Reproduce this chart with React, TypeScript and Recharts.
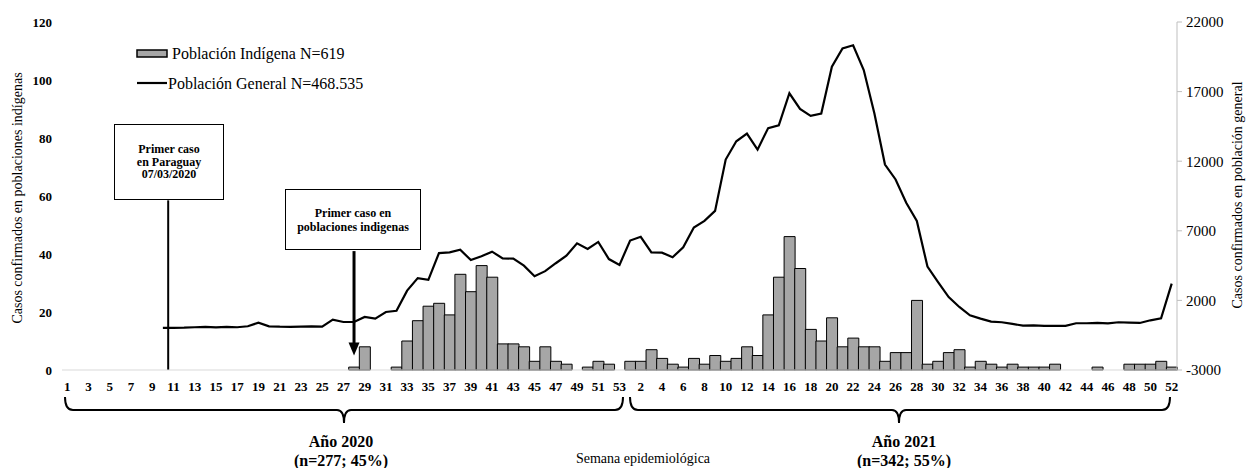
import { ComposedChart, Bar, Line, XAxis, YAxis, ReferenceLine } from "recharts";

const SERIF = '"Liberation Serif", "Times New Roman", serif';

// casos confirmados en poblaciones indígenas, por semana epidemiológica
const indigena2020 = [
  0, 0, 0, 0, 0, 0, 0, 0, 0, 0, 0, 0, 0, 0, 0, 0, 0, 0, 0, 0, 0, 0, 0, 0, 0, 0, 0,
  1, 8, 0, 0, 1, 10, 17, 22, 23, 19, 33, 27, 36, 32, 9, 9, 8, 3, 8, 3, 2, 0, 1, 3, 2, 0,
];
const indigena2021 = [
  3, 3, 7, 4, 2, 1, 4, 2, 5, 3, 4, 8, 5, 19, 32, 46, 35, 14, 10, 18, 8, 11, 8, 8, 3, 6,
  6, 24, 2, 3, 6, 7, 1, 3, 2, 1, 2, 1, 1, 1, 2, 0, 0, 0, 1, 0, 0, 2, 2, 2, 3, 1,
];

// casos confirmados en población general
const general2020 = [
  null, null, null, null, null, null, null, null, null,
  20, 30, 40, 70, 95, 60, 95, 70, 140, 400, 140, 110, 100, 110, 130, 110, 620, 450, 450,
  810, 690, 1170, 1250, 2700, 3600, 3480, 5400, 5450, 5640, 4900, 5170, 5500, 5020, 5000,
  4500, 3740, 4100, 4670, 5210, 6100, 5690, 6200, 4970, 4550,
];
const general2021 = [
  6300, 6570, 5450, 5430, 5100, 5810, 7240, 7710, 8430, 12120, 13430, 13980, 12830, 14380,
  14570, 16880, 15760, 15260, 15430, 18790, 20100, 20330, 18550, 15450, 11760, 10690, 9020,
  7710, 4430, 3310, 2240, 1530, 930, 690, 480, 430, 310, 190, 210, 170, 170, 170, 360, 360,
  380, 350, 430, 400, 380, 570, 710, 3200,
];

const leftTicks = [0, 20, 40, 60, 80, 100, 120];
const rightTicks = [-3000, 2000, 7000, 12000, 17000, 22000];

const data = [
  ...indigena2020.map((v, i) => ({ key: `2020-${i + 1}`, indigena: v, general: general2020[i] })),
  ...indigena2021.map((v, i) => ({ key: `2021-${i + 1}`, indigena: v, general: general2021[i] })),
];

const ArrowDown = (p: any) => {
  const { x1, y1, x2, y2 } = p;
  return (
    <g>
      <line x1={x1} y1={y1} x2={x2} y2={y2 - 10} stroke="#000" strokeWidth={3} />
      <polygon points={`${x2 - 5.5},${y2 - 13} ${x2 + 5.5},${y2 - 13} ${x2},${y2}`} fill="#000" />
    </g>
  );
};

const boxStyle: React.CSSProperties = {
  position: "absolute",
  background: "#fff",
  border: "1.5px solid #000",
  boxSizing: "border-box",
  display: "flex",
  alignItems: "center",
  justifyContent: "center",
  textAlign: "center",
  fontFamily: SERIF,
  fontWeight: 700,
  fontSize: 12,
  lineHeight: "12.5px",
};

export default function App() {
  return (
    <div style={{ position: "absolute", left: 0, top: 0, width: 1246, height: 468, background: "#fff" }}>
      <ComposedChart
        width={1246}
        height={468}
        data={data}
        barCategoryGap={0}
        margin={{ top: 22, right: 0, bottom: 68, left: 0 }}
      >
        <XAxis
          dataKey="key"
          interval={1}
          tickFormatter={(k: string) => k.split("-")[1]}
          axisLine={{ stroke: "#d9d9d9" }}
          tickLine={false}
          tickSize={6}
          tickMargin={6}
          height={30}
          tick={{ fontFamily: SERIF, fontSize: 13, fontWeight: 700, fill: "#000" }}
        />
        <YAxis
          yAxisId="left"
          domain={[0, 120]}
          ticks={leftTicks}
          width={62}
          axisLine={false}
          tickLine={false}
          tickMargin={4}
          tick={{ fontFamily: SERIF, fontSize: 13, fontWeight: 700, fill: "#000" }}
        />
        <YAxis
          yAxisId="right"
          orientation="right"
          domain={[-3000, 22000]}
          ticks={rightTicks}
          width={69}
          axisLine={{ stroke: "#bfbfbf" }}
          tickLine={{ stroke: "#bfbfbf" }}
          tickSize={5}
          tickMargin={4}
          tick={{ fontFamily: SERIF, fontSize: 15, fill: "#000" }}
        />
        <Bar
          yAxisId="left"
          dataKey="indigena"
          fill="#a6a6a6"
          stroke="#000"
          strokeWidth={1}
          isAnimationActive={false}
        />
        <Line
          yAxisId="right"
          dataKey="general"
          type="linear"
          stroke="#000"
          strokeWidth={2.2}
          dot={false}
          activeDot={false}
          connectNulls={false}
          isAnimationActive={false}
        />
        <ReferenceLine
          yAxisId="left"
          segment={[{ x: "2020-11", y: 58.5 }, { x: "2020-11", y: 0 }]}
          position="start"
          stroke="#000"
          strokeWidth={2}
        />
        <ReferenceLine
          yAxisId="left"
          segment={[{ x: "2020-28", y: 41 }, { x: "2020-28", y: 5 }]}
          stroke="#000"
          shape={ArrowDown}
        />
      </ComposedChart>

      <div style={{ ...boxStyle, left: 114, top: 124, width: 110, height: 76 }}>
        Primer caso
        <br />
        en Paraguay
        <br />
        07/03/2020
      </div>
      <div style={{ ...boxStyle, left: 285, top: 189, width: 136, height: 61, lineHeight: "14px" }}>
        Primer caso en
        <br />
        poblaciones indigenas
      </div>

      <svg
        width={1246}
        height={468}
        style={{ position: "absolute", left: 0, top: 0, pointerEvents: "none" }}
        fontFamily={SERIF}
      >
        {/* leyenda */}
        <rect x={137} y={50} width={30} height={7} fill="#a6a6a6" stroke="#000" strokeWidth={1.5} />
        <text x={172} y={58.5} fontSize={16}>Población Indígena N=619</text>
        <line x1={137} y1={83} x2={167} y2={83} stroke="#000" strokeWidth={2.2} />
        <text x={168} y={88.5} fontSize={16}>Población General N=468.535</text>

        {/* títulos de ejes */}
        <text
          transform="translate(22,198) rotate(-90)"
          textAnchor="middle"
          fontSize={14}
        >
          Casos confirmados en poblaciones indígenas
        </text>
        <text
          transform="translate(1242,195) rotate(-90)"
          textAnchor="middle"
          fontSize={14}
        >
          Casos confirmados en población general
        </text>
        <text x={643} y={463} textAnchor="middle" fontSize={14}>Semana epidemiológica</text>

        {/* llaves por año */}
        <path
          d="M65,397 Q65,410 73,410 L337,410 Q344,410 344,423 Q344,410 351,410 L615,410 Q623,410 623,397"
          fill="none"
          stroke="#000"
          strokeWidth={2}
        />
        <path
          d="M630,397 Q630,410 638,410 L892,410 Q899,410 899,423 Q899,410 906,410 L1162,410 Q1170,410 1170,397"
          fill="none"
          stroke="#000"
          strokeWidth={2}
        />
        <text x={341} y={446.5} textAnchor="middle" fontSize={16} fontWeight={700}>Año 2020</text>
        <text x={341} y={465.5} textAnchor="middle" fontSize={16} fontWeight={700}>(n=277; 45%)</text>
        <text x={904} y={446.5} textAnchor="middle" fontSize={16} fontWeight={700}>Año 2021</text>
        <text x={904} y={465.5} textAnchor="middle" fontSize={16} fontWeight={700}>(n=342; 55%)</text>
      </svg>
    </div>
  );
}
